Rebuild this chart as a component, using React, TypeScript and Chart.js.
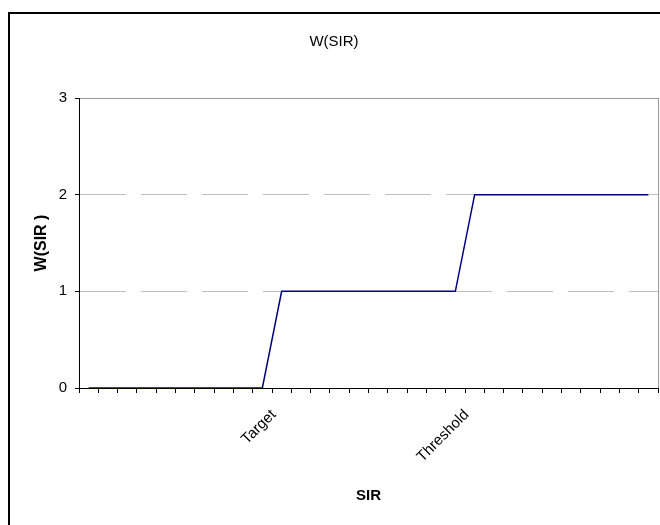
import React, { useEffect, useRef } from "react";
import { Chart, registerables } from "chart.js";

Chart.register(...registerables);

const categories: string[] = [
  "", "", "", "", "", "", "", "", "", "",
  "Target", "", "", "", "", "", "", "", "", "",
  "Threshold", "", "", "", "", "", "", "", "", "",
];

const wValues: number[] = [
  0, 0, 0, 0, 0, 0, 0, 0, 0, 0,
  1, 1, 1, 1, 1, 1, 1, 1, 1, 1,
  2, 2, 2, 2, 2, 2, 2, 2, 2, 2,
];

const yTicks: number[] = [0, 1, 2, 3];

const FONT = "'Liberation Sans', Arial, sans-serif";

const framePlugin = {
  id: "frame",
  afterDraw(chart: any) {
    const { ctx, chartArea } = chart;
    ctx.save();
    ctx.strokeStyle = "#9a9a9a";
    ctx.lineWidth = 1;
    ctx.beginPath();
    ctx.moveTo(Math.round(chartArea.right) + 0.5, chartArea.top);
    ctx.lineTo(Math.round(chartArea.right) + 0.5, chartArea.bottom);
    ctx.stroke();
    ctx.restore();
  },
};

export default function App() {
  const ref = useRef<HTMLCanvasElement | null>(null);

  useEffect(() => {
    if (!ref.current) return;
    const chart = new Chart(ref.current, {
      type: "line",
      data: {
        labels: categories,
        datasets: [
          {
            data: wValues,
            borderColor: "#000080",
            borderWidth: 1.5,
            pointRadius: 0,
            fill: false,
            tension: 0,
          },
        ],
      },
      plugins: [framePlugin],
      options: {
        animation: false,
        responsive: false,
        maintainAspectRatio: false,
        layout: { padding: { left: 0, right: 2, top: 0, bottom: 0 } },
        plugins: {
          legend: { display: false },
          tooltip: { enabled: false },
          title: {
            display: true,
            text: "W(SIR)",
            color: "#000",
            font: { family: FONT, size: 15, weight: "normal", lineHeight: 1.2 },
            padding: { top: 19, bottom: 47 },
          },
        },
        scales: {
          x: {
            type: "category",
            offset: true,
            afterFit: (s: any) => {
              s.height = 137;
              s.paddingLeft = 0;
              s.paddingRight = 0;
            },
            grid: {
              display: true,
              offset: true,
              drawOnChartArea: false,
              drawTicks: true,
              tickLength: 5,
              tickColor: "#000",
              tickWidth: 1,
            },
            border: { display: true, color: "#000", width: 1 },
            ticks: {
              autoSkip: false,
              minRotation: 45,
              maxRotation: 45,
              color: "#000",
              padding: 13,
              labelOffset: -8,
              font: { family: FONT, size: 15 },
            },
            title: {
              display: true,
              text: "SIR",
              color: "#000",
              font: { family: FONT, size: 15, weight: "bold", lineHeight: 1.2 },
              padding: { top: 0, bottom: 20 },
            },
          },
          y: {
            min: 0,
            max: 3,
            afterFit: (s: any) => {
              s.width = 69;
            },
            afterBuildTicks: (s: any) => {
              s.ticks = yTicks.map((v) => ({ value: v }));
            },
            grid: {
              display: true,
              drawOnChartArea: true,
              drawTicks: true,
              tickLength: 4,
              tickColor: "#000",
              color: (ctx: any) => {
                const v = ctx.tick ? ctx.tick.value : -1;
                if (v === 0) return "rgba(0,0,0,0)";
                if (v === 3) return "#9a9a9a";
                return "#c0c0c0";
              },
              lineWidth: 1,
            },
            border: {
              display: true,
              color: "#000",
              width: 1,
              dash: (ctx: any) => (ctx.tick && ctx.tick.value === 3 ? [] : [46, 15]),
            },
            ticks: {
              color: "#000",
              padding: 8,
              font: { family: FONT, size: 15 },
            },
            title: {
              display: true,
              text: "W(SIR )",
              color: "#000",
              font: { family: FONT, size: 16, weight: "bold", lineHeight: 1.2 },
              padding: { top: 22, bottom: 0 },
            },
          },
        },
      },
    } as any);
    return () => chart.destroy();
  }, []);

  return (
    <div
      style={{
        position: "fixed",
        left: 8,
        top: 12,
        width: 652,
        height: 513,
        borderLeft: "2px solid #000",
        borderTop: "2px solid #000",
        boxSizing: "border-box",
        background: "#fff",
      }}
    >
      <canvas ref={ref} width={650} height={511} style={{ display: "block" }} />
    </div>
  );
}
